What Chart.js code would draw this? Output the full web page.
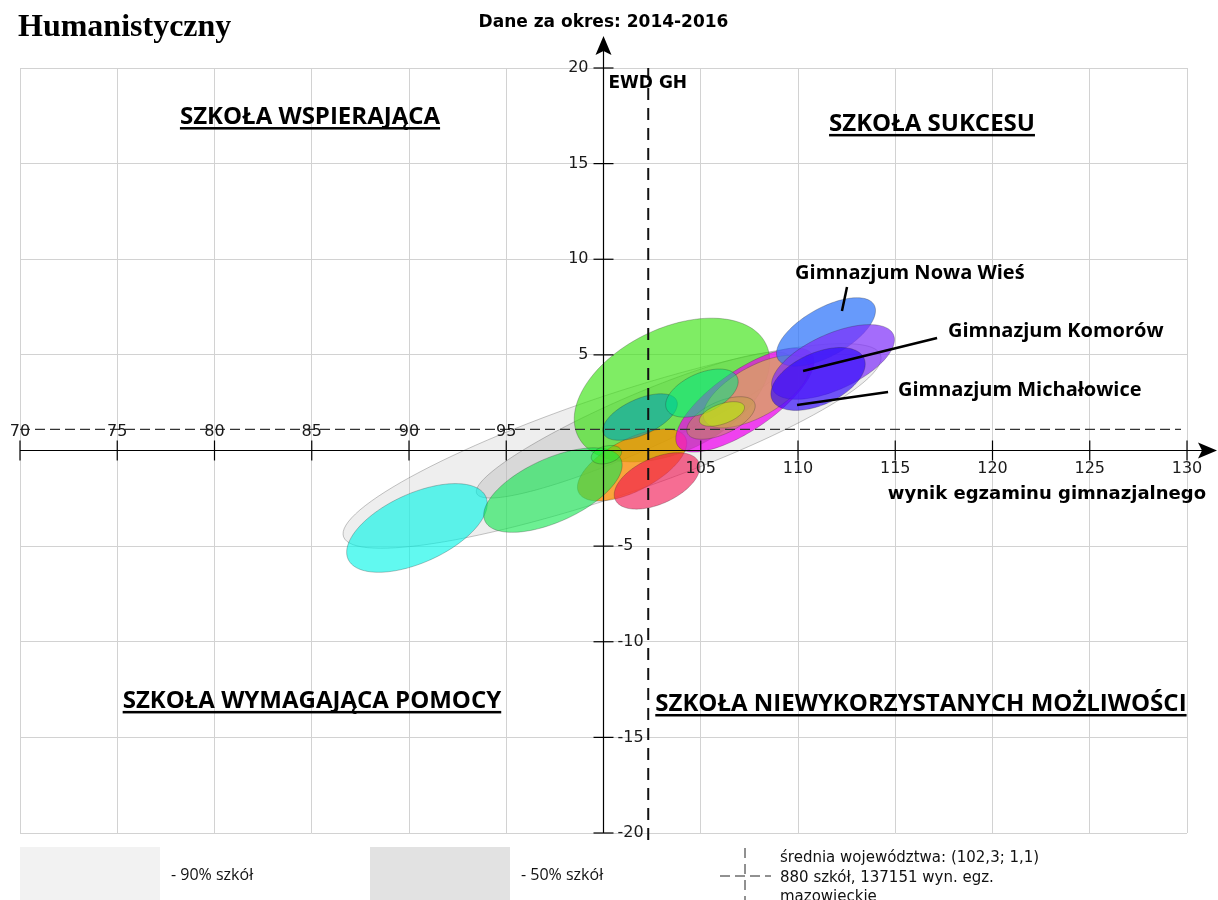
<!DOCTYPE html>
<html lang="pl">
<head>
<meta charset="utf-8">
<title>Humanistyczny</title>
<script src="https://cdn.jsdelivr.net/npm/chart.js@4"></script>
<style>
  html, body { margin: 0; padding: 0; background: #fff; }
  #wrap { position: relative; width: 1218px; height: 900px; }
</style>
</head>
<body>
<div id="wrap"><canvas id="ewdChart" width="1218" height="900"></canvas></div>
<script>
// ---- data ----
const schoolNames = [
  "90% szkół", "50% szkół", "szkoła A", "szkoła B", "szkoła C", "szkoła D", "szkoła E",
  "szkoła F", "szkoła G", "szkoła H", "szkoła I", "szkoła J", "szkoła K", "szkoła L",
  "Gimnazjum Nowa Wieś", "Gimnazjum Komorów", "Gimnazjum Michałowice"
];
// ellipse centre (exam score, EWD), semi-axes and tilt
const centerX   = [100.44, 101.52, 90.41, 103.52, 101.47, 97.40, 100.15, 102.75, 107.27, 107.85, 106.04, 101.88, 105.06, 106.09, 111.44, 111.80, 111.03];
const centerY   = [0.24,   1.33,  -4.05,  3.16,  -0.76,  -2.07, -0.22,  -1.59,   2.64,   3.08,   1.70,   1.75,   3.00,   1.91,   6.20,   4.63,   3.74];
const semiMajor = [14.6,   8.8,    3.9,   5.4,    3.1,    3.85,  0.8,    2.36,   4.2,    3.05,   1.9,    2.07,   2.0,    1.22,   2.85,   3.42,   2.6];
const semiMinor = [2.6,    1.45,   1.8,   3.2,    1.35,   1.65,  0.45,   1.2,    1.55,   1.3,    0.85,   0.93,   1.03,   0.52,   1.25,   1.45,   1.35];
const tiltDeg   = [19,     24,     25,    27,     28,     25,    15,     25,     35,     30,     25,     25,     25,     20,     30,     25,     25];

const meanX = 102.3;
const meanY = 1.1;
const xTicks = [70, 75, 80, 85, 90, 95, 105, 110, 115, 120, 125, 130];
const yTicks = [20, 15, 10, 5, -5, -10, -15, -20];

// ---- styles ----
const fills = [
  "rgba(205,205,205,0.34)", "rgba(175,175,175,0.35)", "rgba(0,245,230,0.62)", "rgba(60,228,20,0.66)",
  "rgba(255,140,0,0.75)", "rgba(20,230,80,0.62)", "rgba(40,240,40,0.45)", "rgba(240,20,80,0.62)",
  "rgba(240,0,240,0.72)", "rgba(218,162,100,0.82)", "rgba(190,160,60,0.42)", "rgba(0,160,180,0.6)",
  "rgba(0,230,130,0.55)", "rgba(185,232,20,0.65)", "rgba(45,115,250,0.72)", "rgba(125,45,250,0.7)",
  "rgba(50,10,250,0.68)"
];

const annotations = [
  { text: "Gimnazjum Nowa Wieś",   tx: 109.85, ty: 9.28, from: [112.52, 8.55], to: [112.26, 7.29] },
  { text: "Gimnazjum Komorów",     tx: 117.71, ty: 6.25, from: [117.15, 5.88], to: [110.26, 4.16] },
  { text: "Gimnazjum Michałowice", tx: 115.14, ty: 3.16, from: [114.63, 3.06], to: [109.95, 2.38] }
];
const quadrants = [
  { text: "SZKOŁA WSPIERAJĄCA", x: 84.91, y: 17.07 },
  { text: "SZKOŁA SUKCESU", x: 116.89, y: 16.71 },
  { text: "SZKOŁA WYMAGAJĄCA POMOCY", x: 85.01, y: -13.46 },
  { text: "SZKOŁA NIEWYKORZYSTANYCH MOŻLIWOŚCI", x: 116.32, y: -13.62 }
];

function ellipsePath(ctx, xs, ys, i) {
  const t = tiltDeg[i] * Math.PI / 180, c = Math.cos(t), s = Math.sin(t);
  ctx.beginPath();
  for (let k = 0; k <= 120; k++) {
    const u = k / 120 * 2 * Math.PI;
    const dx = semiMajor[i] * Math.cos(u), dy = semiMinor[i] * Math.sin(u);
    const px = xs.getPixelForValue(centerX[i] + dx * c - dy * s);
    const py = ys.getPixelForValue(centerY[i] + dx * s + dy * c);
    if (k === 0) ctx.moveTo(px, py); else ctx.lineTo(px, py);
  }
  ctx.closePath();
}

const ellipsePlugin = {
  id: 'ellipses',
  beforeDatasetsDraw(chart) {
    const ctx = chart.ctx, xs = chart.scales.x, ys = chart.scales.y;
    ctx.save();
    for (let i = 0; i < centerX.length; i++) {
      ellipsePath(ctx, xs, ys, i);
      ctx.fillStyle = fills[i];
      ctx.fill();
      ctx.lineWidth = 0.8;
      ctx.strokeStyle = i < 2 ? "rgba(90,90,90,0.45)" : "rgba(40,40,40,0.35)";
      ctx.stroke();
    }
    ctx.restore();
  }
};

const axesPlugin = {
  id: 'axesAndText',
  afterDraw(chart) {
    const ctx = chart.ctx, xs = chart.scales.x, ys = chart.scales.y, area = chart.chartArea;
    const x0 = xs.getPixelForValue(100), y0 = ys.getPixelForValue(0);
    ctx.save();

    // mean dashed lines
    const mx = xs.getPixelForValue(meanX), my = ys.getPixelForValue(meanY);
    ctx.strokeStyle = "#333";
    ctx.lineWidth = 1.3;
    ctx.setLineDash([10, 5]);
    ctx.beginPath(); ctx.moveTo(area.left, my); ctx.lineTo(area.right - 6, my); ctx.stroke();
    ctx.strokeStyle = "#111";
    ctx.lineWidth = 2;
    ctx.setLineDash([12, 8]);
    ctx.beginPath(); ctx.moveTo(mx, area.top); ctx.lineTo(mx, area.bottom + 8); ctx.stroke();
    ctx.setLineDash([]);

    // axes with arrows
    ctx.strokeStyle = "#000";
    ctx.fillStyle = "#000";
    ctx.lineWidth = 1.2;
    ctx.beginPath(); ctx.moveTo(x0, area.bottom); ctx.lineTo(x0, 50); ctx.stroke();
    ctx.beginPath(); ctx.moveTo(x0, 36); ctx.lineTo(x0 - 8, 55); ctx.lineTo(x0, 51); ctx.lineTo(x0 + 8, 55); ctx.closePath(); ctx.fill();
    ctx.beginPath(); ctx.moveTo(area.left, y0); ctx.lineTo(1204, y0); ctx.stroke();
    ctx.beginPath(); ctx.moveTo(1217, y0); ctx.lineTo(1198, y0 - 8); ctx.lineTo(1202, y0); ctx.lineTo(1198, y0 + 8); ctx.closePath(); ctx.fill();

    // ticks and tick labels
    ctx.font = "16px 'DejaVu Sans'";
    ctx.fillStyle = "#1a1a1a";
    ctx.textBaseline = "middle";
    ctx.lineWidth = 1.2;
    xTicks.forEach(v => {
      const px = xs.getPixelForValue(v);
      ctx.beginPath(); ctx.moveTo(px, y0 - 10); ctx.lineTo(px, y0 + 10); ctx.stroke();
      ctx.textAlign = "center";
      ctx.fillText(String(v), px, v < 100 ? y0 - 19 : y0 + 18);
    });
    yTicks.forEach(v => {
      const py = ys.getPixelForValue(v);
      ctx.beginPath(); ctx.moveTo(x0 - 10, py); ctx.lineTo(x0 + 10, py); ctx.stroke();
      if (v > 0) { ctx.textAlign = "right"; ctx.fillText(String(v), x0 - 15, py); }
      else { ctx.textAlign = "left"; ctx.fillText(String(v), x0 + 14, py); }
    });

    // axis titles
    ctx.fillStyle = "#000";
    ctx.font = "bold 18px 'DejaVu Sans'";
    ctx.textAlign = "right";
    ctx.textBaseline = "alphabetic";
    ctx.fillText("wynik egzaminu gimnazjalnego", 1206, 499);
    ctx.font = "bold 17px 'DejaVu Sans'";
    ctx.textAlign = "left";
    ctx.fillText("EWD GH", x0 + 5, 88);
    ctx.textAlign = "center";
    ctx.fillText("Dane za okres: 2014-2016", x0, 27);

    // quadrant labels (underlined)
    ctx.font = "bold 24px 'Open Sans'";
    quadrants.forEach(q => {
      const px = xs.getPixelForValue(q.x), py = ys.getPixelForValue(q.y);
      const w = ctx.measureText(q.text).width;
      ctx.fillText(q.text, px, py);
      ctx.fillRect(px - w / 2, py + 3, w, 2.5);
    });

    // school annotations
    ctx.font = "bold 20px 'Open Sans'";
    ctx.textAlign = "left";
    ctx.textBaseline = "middle";
    ctx.lineWidth = 2.5;
    annotations.forEach(a => {
      ctx.fillText(a.text, xs.getPixelForValue(a.tx), ys.getPixelForValue(a.ty));
      ctx.beginPath();
      ctx.moveTo(xs.getPixelForValue(a.from[0]), ys.getPixelForValue(a.from[1]));
      ctx.lineTo(xs.getPixelForValue(a.to[0]), ys.getPixelForValue(a.to[1]));
      ctx.stroke();
    });

    // page title
    ctx.font = "bold 32px 'Liberation Serif'";
    ctx.textBaseline = "alphabetic";
    ctx.fillText("Humanistyczny", 18, 36);

    // legend
    ctx.fillStyle = "#f2f2f2"; ctx.fillRect(20, 847, 140, 53);
    ctx.fillStyle = "#e2e2e2"; ctx.fillRect(370, 847, 140, 53);
    ctx.fillStyle = "#111";
    ctx.font = "16px 'Open Sans'";
    ctx.textBaseline = "middle";
    ctx.fillText("- " + schoolNames[0], 171, 875);
    ctx.fillText("- " + schoolNames[1], 521, 875);
    ctx.strokeStyle = "#222"; ctx.lineWidth = 1;
    ctx.setLineDash([10, 6]);
    ctx.beginPath(); ctx.moveTo(745, 848); ctx.lineTo(745, 900); ctx.stroke();
    ctx.setLineDash([10, 5]);
    ctx.beginPath(); ctx.moveTo(720, 876); ctx.lineTo(771, 876); ctx.stroke();
    ctx.setLineDash([]);
    ctx.font = "15px 'DejaVu Sans'";
    ctx.textBaseline = "alphabetic";
    ctx.fillText("średnia województwa: (" + String(meanX).replace(".", ",") + "; " + String(meanY).replace(".", ",") + ")", 780, 862);
    ctx.fillText("880 szkół, 137151 wyn. egz.", 780, 882);
    ctx.fillText("mazowieckie", 780, 901);
    ctx.restore();
  }
};

const datasets = schoolNames.map((name, i) => ({
  label: name,
  data: [{ x: centerX[i], y: centerY[i] }],
  pointRadius: 0,
  backgroundColor: fills[i]
}));

const ctx = document.getElementById('ewdChart').getContext('2d');
const ewdChart = new Chart(ctx, {
  type: 'scatter',
  data: { datasets: datasets },
  options: {
    responsive: false,
    animation: false,
    layout: { padding: { left: 20, top: 68, right: 31, bottom: 67 } },
    plugins: { legend: { display: false }, tooltip: { enabled: false } },
    scales: {
      x: {
        type: 'linear', min: 70, max: 130,
        ticks: { display: false, stepSize: 5 },
        grid: { color: '#d2d2d2', drawTicks: false, lineWidth: 1 },
        border: { display: false }
      },
      y: {
        type: 'linear', min: -20, max: 20,
        ticks: { display: false, stepSize: 5 },
        grid: { color: '#d2d2d2', drawTicks: false, lineWidth: 1 },
        border: { display: false }
      }
    }
  },
  plugins: [ellipsePlugin, axesPlugin]
});
</script>
</body>
</html>
